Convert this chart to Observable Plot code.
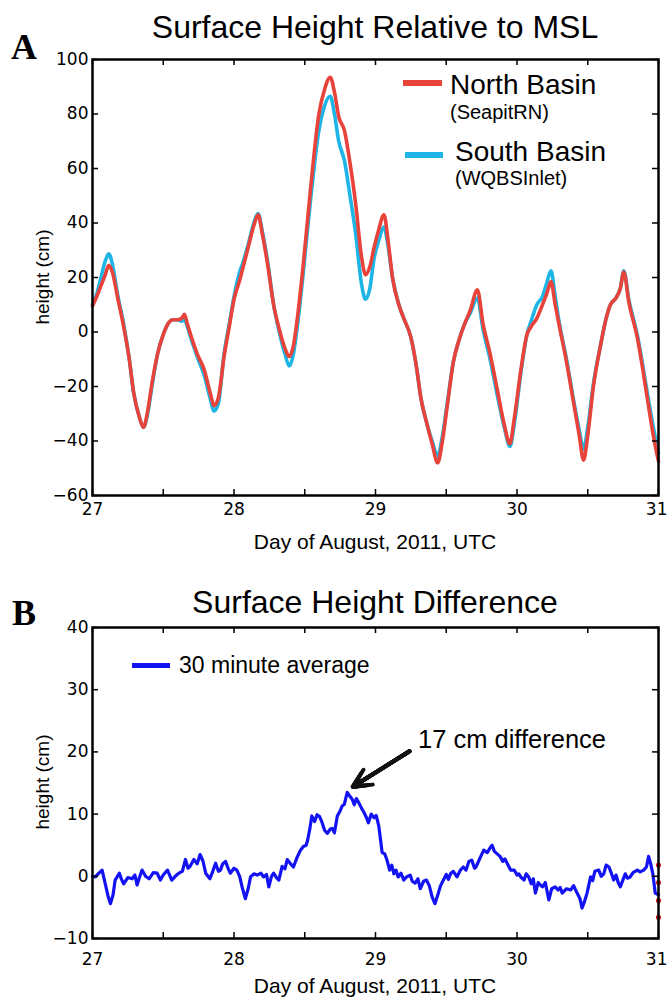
<!DOCTYPE html>
<html><head><meta charset="utf-8">
<script src="https://cdn.jsdelivr.net/npm/d3@7"></script>
<script src="https://cdn.jsdelivr.net/npm/@observablehq/plot@0.6"></script>
<style>
body{margin:0;background:#fff;}
#fig{position:relative;width:667px;height:997px;font-family:"Liberation Sans",Arial,Helvetica,sans-serif;color:#000;overflow:hidden;background:#fff}
.t{position:absolute;white-space:nowrap;line-height:1}
.c{transform:translate(-50%,-50%)}
.l{transform:translate(0,-50%)}
.r{transform:translate(-50%,-50%) rotate(-90deg)}
.pl{position:absolute;left:0}
.sw{position:absolute}
.letter{font-family:"Liberation Serif","Times New Roman",serif;font-weight:bold}
#fig svg g[aria-label="x-axis tick label"],#fig svg g[aria-label="y-axis tick label"]{font-size:17px !important;font-family:"DejaVu Sans",sans-serif !important}
</style></head><body><div id="fig"></div>
<script>
// ---------- data ----------
const xTicks = [27, 27.5, 28, 28.5, 29, 29.5, 30, 30.5, 31];
const xLabels = [27, 28, 29, 30];
const xLabelLast = [31];
const yTicksA = [-60, -40, -20, 0, 20, 40, 60, 80, 100];
const yTicksB = [-10, 0, 10, 20, 30, 40];

// Panel A: surface height (cm) vs day of August 2011
const tA = [27.00,27.03,27.06,27.09,27.115,27.14,27.18,27.22,27.26,27.29,27.33,27.36,27.39,27.42,27.46,27.50,27.54,27.57,27.60,27.63,27.65,27.67,27.70,27.74,27.79,27.83,27.86,27.89,27.93,27.97,28.00,28.04,28.06,28.10,28.14,28.17,28.20,28.24,28.28,28.32,28.36,28.39,28.42,28.45,28.49,28.54,28.60,28.64,28.68,28.71,28.74,28.78,28.82,28.86,28.90,28.93,28.96,28.99,29.02,29.06,29.09,29.12,29.165,29.20,29.25,29.29,29.32,29.36,29.40,29.44,29.47,29.51,29.55,29.59,29.63,29.67,29.72,29.76,29.81,29.86,29.91,29.95,29.98,30.03,30.07,30.10,30.14,30.18,30.21,30.24,30.27,30.30,30.35,30.40,30.44,30.47,30.50,30.54,30.59,30.63,30.66,30.70,30.73,30.755,30.79,30.85,30.92,30.96,31.00];
const north = [9.5,13,17,21,24.5,22,12,2,-10,-22,-31,-35,-29,-19,-8,-1,3.5,4.5,4.5,5,6.5,3,-2,-8,-14,-22,-27,-24,-9,3,12,19,23,31,39,43,36,24,10,1,-6,-9,-5,6,25,52,80,89,93.5,88,79,74,62,47,28,21,24,31,37,43,33,20,10,5,-2,-13,-24,-33,-41,-48,-41,-26,-11,-3,3,8,15.5,3,-8,-21,-34,-41,-32,-13,-1,2,5,10,14,18.5,10,2,-11,-26,-38,-47,-38,-20,-5,5,10,12.5,16,22,11,-2,-24,-37,-47.5];
const south = [10,14,20,26,28.7,25,13,3,-10,-22,-31,-35,-30,-20,-8,-1,3.5,4.5,4.5,4,4.5,2,-3,-9,-16,-24,-29,-26,-8,4,13,22,25,32,40,43.5,37,25,10,0,-8,-12.5,-8,3,22,48,74,83,86.5,80,70,63,50,36,18,12,16,27,33,38.5,31,20,10,5,-2,-13,-24,-33,-40,-45.5,-39,-25,-11,-3,3,7,12.5,1,-10,-23,-35,-42,-34,-14,-1,4,10,13,18,22.5,13,3,-10,-25,-36,-43,-35,-19,-5,5,10,12.5,16,22.5,12,-1,-22,-34,-44.5];

// Panel B: 30 minute average height difference (cm)
const tB = [27.00,27.02,27.045,27.068,27.09,27.11,27.127,27.145,27.16,27.19,27.205,27.22,27.25,27.28,27.30,27.315,27.33,27.35,27.375,27.40,27.43,27.457,27.48,27.50,27.53,27.56,27.585,27.61,27.635,27.657,27.675,27.69,27.716,27.74,27.76,27.78,27.80,27.83,27.85,27.87,27.89,27.904,27.92,27.94,27.96,27.975,28.00,28.02,28.04,28.057,28.08,28.10,28.117,28.14,28.164,28.19,28.21,28.23,28.246,28.265,28.28,28.30,28.317,28.34,28.36,28.376,28.40,28.42,28.445,28.47,28.49,28.51,28.52,28.535,28.55,28.57,28.587,28.605,28.62,28.64,28.66,28.68,28.694,28.71,28.73,28.75,28.764,28.78,28.80,28.815,28.835,28.85,28.865,28.88,28.90,28.918,28.935,28.95,28.97,28.99,29.005,29.023,29.035,29.047,29.065,29.08,29.10,29.115,29.13,29.145,29.16,29.18,29.20,29.22,29.245,29.26,29.28,29.30,29.316,29.34,29.36,29.38,29.40,29.42,29.44,29.46,29.48,29.50,29.515,29.53,29.55,29.576,29.60,29.62,29.64,29.66,29.68,29.70,29.71,29.74,29.765,29.79,29.81,29.824,29.84,29.86,29.88,29.90,29.915,29.93,29.955,29.98,30.00,30.013,30.03,30.05,30.065,30.083,30.10,30.115,30.13,30.15,30.165,30.18,30.20,30.225,30.245,30.27,30.29,30.305,30.32,30.35,30.38,30.40,30.425,30.445,30.46,30.475,30.495,30.52,30.535,30.55,30.578,30.595,30.613,30.63,30.65,30.665,30.683,30.70,30.715,30.73,30.75,30.765,30.78,30.80,30.82,30.85,30.87,30.895,30.915,30.93,30.945,30.96,30.977,31.00];
const diff = [0,-0.1,0.5,1.0,-1.2,-3.2,-4.4,-3.0,-0.6,0.5,-0.5,-1.2,-0.2,-0.4,0.2,-1.4,-0.3,1.0,0,-0.4,0.6,0.5,-0.6,0.2,1.0,-0.6,0,0.5,0.8,2.7,1.3,1.6,2.7,2.0,3.5,2.5,0.5,-0.4,0.8,2.1,0.8,1.0,2.0,2.4,1.2,0.5,1.3,1.0,0,-1.7,-3.6,-2.0,-0.1,0.4,0.2,0.5,-0.1,0.3,-1.7,0,0.5,-0.2,-0.6,1.6,1.2,2.7,2.0,1.5,3.0,4.2,4.8,5.0,5.8,7.5,9.7,8.8,9.9,9.6,8.8,7.4,6.9,7.6,7.7,7.0,9.7,10.5,11.3,11.6,13.5,13.0,12.4,11.5,12.5,11.9,11.0,10.3,9.5,8.6,10.0,9.4,9.8,8.1,6.0,3.8,3.6,2.7,1.0,1.8,0.4,1.0,-0.1,0.5,-0.6,-0.1,0.2,-0.8,-1.1,-0.4,-2.0,-0.8,-0.6,-1.5,-3.3,-4.4,-3.0,-1.5,-0.6,0.3,-0.5,0.4,0.8,-0.1,1.0,1.5,1.0,2.4,2.6,1.3,1.5,3.0,4.2,3.8,4.6,5.0,4.0,3.6,3.2,2.4,2.8,2.1,1.0,1.0,0.2,0.4,-0.2,-0.6,0.4,-0.1,-1.2,-0.4,-2.7,-1.0,-1.4,-1.7,-1.0,-3.8,-2.0,-1.7,-2.2,-1.8,-2.7,-2.0,-2.2,-1.5,-2.7,-3.6,-5.1,-4.2,-2.7,-0.1,-0.7,0.8,1.0,0,0.4,1.8,1.5,0.6,-0.6,0.2,-1.0,-1.7,-0.5,0.4,-0.3,-0.1,0.6,1.0,0.7,1.0,1.5,3.2,2.0,0.4,-2.7,-3.0];

// red marker points at the right edge of panel B
const redDotsX = [31, 31, 31, 31];
const redDotsY = [1.8, -1.0, -3.9, -6.6];

// annotation arrow (data units)
const arrowFrom = [29.24, 20.1];
const arrowTo = [28.84, 14.4];
const arrowHeads = [7.5, 6, 4.5, 3, 1.5];

// ---------- build ----------
const seriesA = [
  ...tA.map((t, i) => ({t, h: south[i], s: "South Basin"})),
  ...tA.map((t, i) => ({t, h: north[i], s: "North Basin"}))
];
const seriesB = tB.map((t, i) => ({t, d: diff[i]}));
const dotsB = redDotsX.map((x, i) => ({x, y: redDotsY[i]}));
const arrowB = [{x1: arrowFrom[0], y1: arrowFrom[1], x2: arrowTo[0], y2: arrowTo[1]}];

const RED = "#e8433a", CYAN = "#1db4e6", BLUE = "#1212f2";
const W = 667, ML = 92, MR = 9, TICK = 6;
const fmt = d => d < 0 ? "\u2212" + Math.abs(d) : String(d);

function panel({height, mt, mb, yDomain, yTicks, xPad, marks}) {
  const fw = W - ML - MR, fh = height - mt - mb;
  return Plot.plot({
    width: W, height, marginLeft: ML, marginRight: MR, marginTop: mt, marginBottom: mb,
    x: {domain: [27, 31]}, y: {domain: yDomain},
    style: {fontSize: "17px", fontFamily: "'DejaVu Sans', sans-serif", color: "#000", background: "transparent", overflow: "visible"},
    marks: [
      ...marks,
      Plot.ruleX(xTicks, {insetBottom: fh - TICK, strokeWidth: 1.5}),
      Plot.ruleX(xTicks, {insetTop: fh - TICK, strokeWidth: 1.5}),
      Plot.ruleY(yTicks, {insetRight: fw - TICK, strokeWidth: 1.5}),
      Plot.ruleY(yTicks, {insetLeft: fw - TICK, strokeWidth: 1.5}),
      Plot.frame({stroke: "#000", strokeWidth: 2.5}),
      Plot.axisX({anchor: "bottom", ticks: xLabels, tickSize: 0, tickPadding: xPad, tickFormat: d => String(d), label: null, fontSize: 17}),
      Plot.axisX({anchor: "bottom", ticks: xLabelLast, tickSize: 0, tickPadding: xPad, tickFormat: d => String(d), label: null, fontSize: 17, textAnchor: "end", dx: 9}),
      Plot.axisY({anchor: "left", ticks: yTicks, tickSize: 0, tickPadding: 4, tickFormat: fmt, label: null, fontSize: 17})
    ]
  });
}

const plotA = panel({
  height: 560, mt: 59, mb: 65, yDomain: [-60, 100], yTicks: yTicksA, xPad: 7,
  marks: [
    Plot.line(seriesA, {x: "t", y: "h", z: "s", stroke: d => d.s === "North Basin" ? RED : CYAN, strokeWidth: 3.6, curve: "monotone-x"})
  ]
});
const plotB = panel({
  height: 437, mt: 67, mb: 59, yDomain: [-10, 40], yTicks: yTicksB, xPad: 14,
  marks: [
    Plot.line(seriesB, {x: "t", y: "d", stroke: BLUE, strokeWidth: 3.2}),
    Plot.dot(dotsB, {x: "x", y: "y", r: 2.6, fill: "#e32020", stroke: null}),
    ...arrowHeads.map(h => Plot.arrow(arrowB, {x1: "x1", y1: "y1", x2: "x2", y2: "y2", stroke: "#111", strokeWidth: 4, headLength: h, headAngle: 52}))
  ]
});

const fig = document.getElementById("fig");
const wrapA = document.createElement("div"); wrapA.className = "pl"; wrapA.style.top = "0px"; wrapA.appendChild(plotA);
const wrapB = document.createElement("div"); wrapB.className = "pl"; wrapB.style.top = "560px"; wrapB.appendChild(plotB);
fig.appendChild(wrapA); fig.appendChild(wrapB);
d3.select(fig).selectAll('g[aria-label$="tick label"] text')
  .style("font-size", "17px").style("font-family", "'DejaVu Sans', sans-serif");

function txt(s, x, y, size, cls) {
  const d = document.createElement("div");
  d.className = "t " + cls;
  d.textContent = s;
  d.style.left = x + "px"; d.style.top = y + "px"; d.style.fontSize = size + "px";
  fig.appendChild(d);
}
function swatch(color, x1, x2, y, h) {
  const d = document.createElement("div");
  d.className = "sw";
  d.style.left = x1 + "px"; d.style.width = (x2 - x1) + "px";
  d.style.top = (y - h / 2) + "px"; d.style.height = h + "px";
  d.style.background = color;
  fig.appendChild(d);
}

// Panel A texts
txt("A", 24, 47, 36, "c letter");
txt("Surface Height Relative to MSL", 375, 27, 32, "c");
txt("height (cm)", 42, 277, 19, "r");
txt("Day of August, 2011, UTC", 375, 541, 21, "c");
swatch(RED, 403, 442, 83, 6);
txt("North Basin", 450, 85, 28, "l");
txt("(SeapitRN)", 450, 112, 20, "l");
swatch(CYAN, 405, 443, 155, 6);
txt("South Basin", 455, 152, 28, "l");
txt("(WQBSInlet)", 455, 178, 20, "l");

// Panel B texts
txt("B", 24, 613, 36, "c letter");
txt("Surface Height Difference", 375, 602, 32, "c");
txt("height (cm)", 42, 782, 19, "r");
txt("Day of August, 2011, UTC", 375, 985, 21, "c");
swatch(BLUE, 132, 170, 665, 5);
txt("30 minute average", 179, 665, 23, "l");
txt("17 cm difference", 418, 740, 25.5, "l");
</script></body></html>
